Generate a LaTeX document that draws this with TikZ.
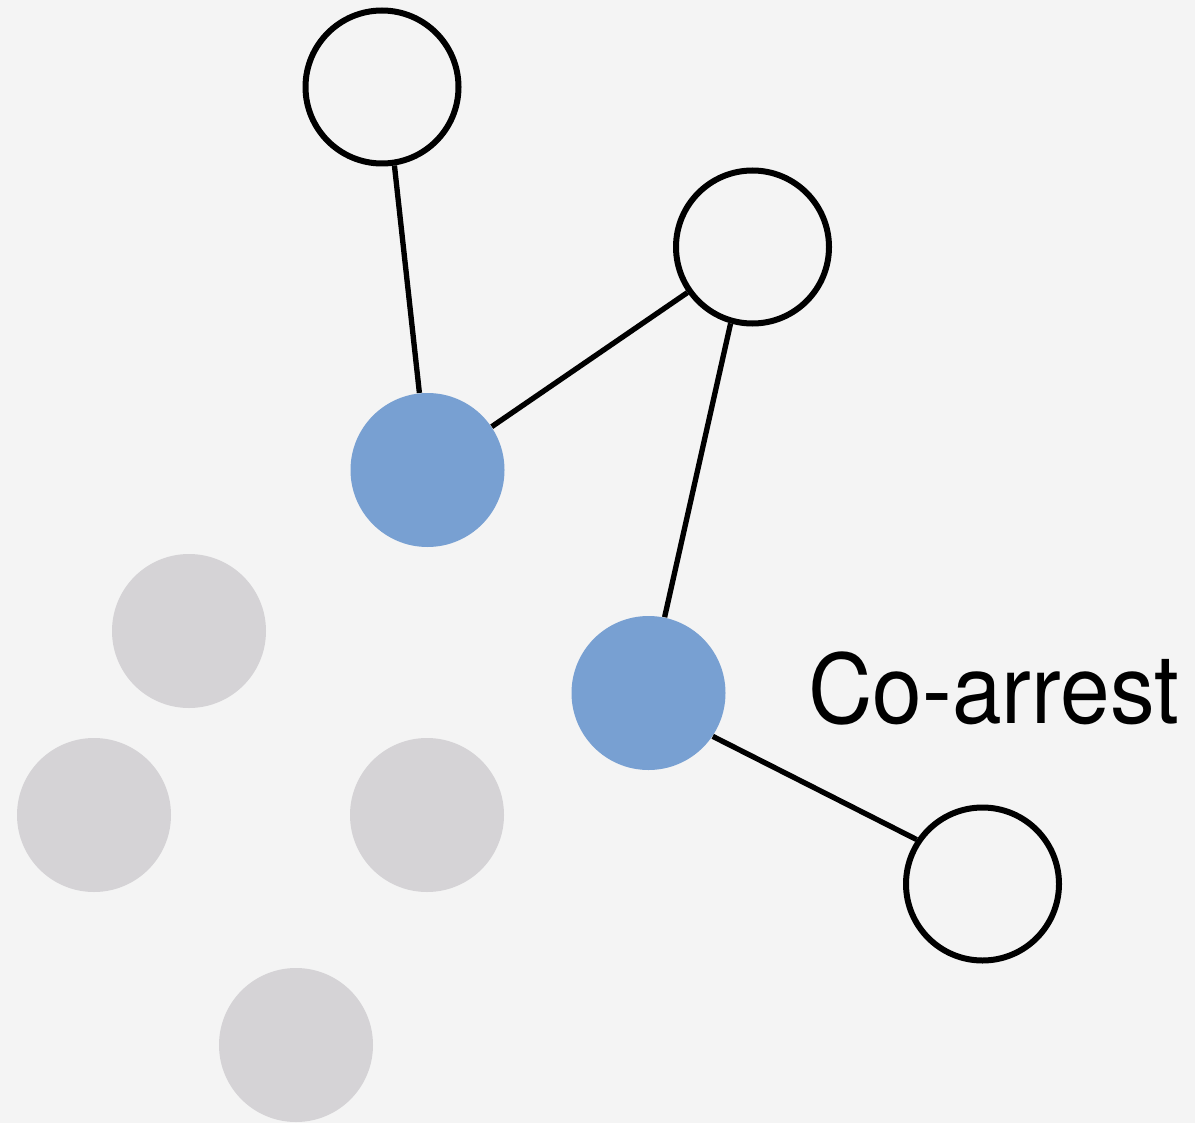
\documentclass[tikz,border=0pt]{standalone}
\usepackage{fontspec}
\usepackage{graphicx}
\setmainfont{TeX Gyre Heros}

\definecolor{bgcol}{RGB}{244,244,244}
\definecolor{arrestblue}{RGB}{120,160,210}
\definecolor{idlegray}{RGB}{213,211,214}

\tikzset{every picture/.style={line width=0.75pt}}
\tikzset{
	freecell/.style={circle, draw=black, line width=4.5pt, fill=bgcol, minimum size=114.75pt, inner sep=0pt},
	arrestcell/.style={circle, fill=arrestblue, minimum size=115.5pt, inner sep=0pt},
	idlecell/.style={circle, fill=idlegray, minimum size=115.5pt, inner sep=0pt},
	contact/.style={draw=black, line width=4pt}}

\begin{document}
\begin{tikzpicture}[x=0.75pt,y=0.75pt,yscale=-1,xscale=1]
	%background, sets the size of the diagram
	\fill [bgcol] (0,0) rectangle (1195,1123);
	\useasboundingbox (0,0) rectangle (1195,1123);

	%Grey cells
	\node [idlecell] (g1) at (189,631) {};
	\node [idlecell] (g2) at (94,815) {};
	\node [idlecell] (g3) at (427,815) {};
	\node [idlecell] (g4) at (296,1045) {};

	%Blue cells
	\node [arrestcell] (b1) at (427.5,470) {};
	\node [arrestcell] (b2) at (648.5,693) {};

	%White cells
	\node [freecell] (w1) at (382,87) {};
	\node [freecell] (w2) at (752.5,247) {};
	\node [freecell] (w3) at (982.5,884) {};

	%Links
	\draw [contact] (w1.-81) -- (b1.96);
	\draw [contact] (b1.34) -- (w2.-145);
	\draw [contact] (w2.-106) -- (b2.78);
	\draw [contact] (b2.-34) -- (w3.146);

	% Text Node
	\node [anchor=base west, inner sep=0pt, font=\fontsize{72}{72}\selectfont] (lbl) at (808,723) {\scalebox{0.93}[1]{Co-arrest}};

\end{tikzpicture}
\end{document}
